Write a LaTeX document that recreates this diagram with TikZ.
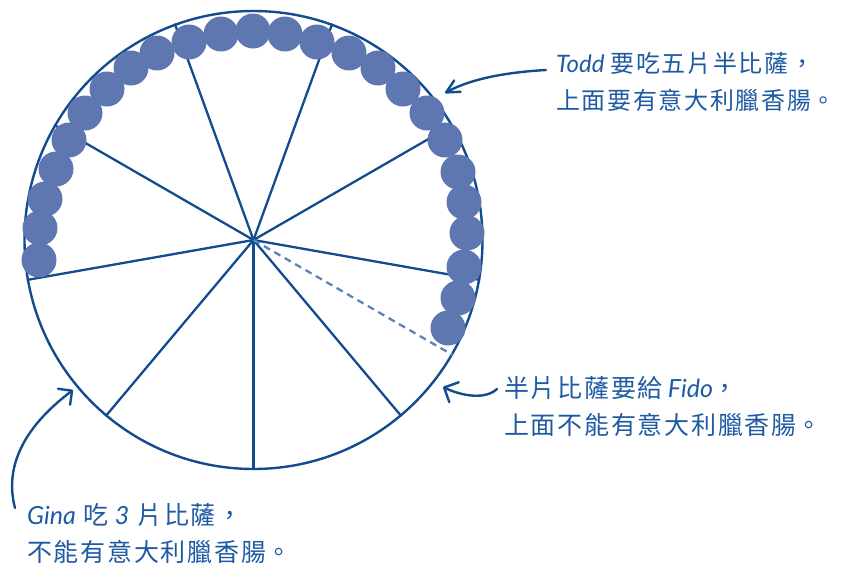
\documentclass[tikz,border=0pt]{standalone}
\usepackage{fontspec}
\usetikzlibrary{arrows.meta,calc}
\newfontfamily\cjk{Noto Sans CJK TC}[LetterSpace=7]
\newfontfamily\lat{Lato}[Scale=1.0]
\newcommand{\jushao}{\makebox[11pt][l]{。}}
\definecolor{lineblue}{HTML}{124C8E}
\definecolor{pepblue}{HTML}{5F77B0}
\definecolor{dashblue}{HTML}{5A82BC}
\definecolor{textblue}{HTML}{1E5AA3}
\tikzset{
  pizza/.style={circle, draw=lineblue, line width=2.4pt, minimum size=458pt, inner sep=0pt},
  spoke/.style={draw=lineblue, line width=2.3pt},
  halfcut/.style={draw=dashblue, line width=2.3pt, dash pattern=on 7pt off 5pt},
  pep/.style={circle, fill=pepblue, minimum size=35pt, inner sep=0pt},
  note/.style={text=textblue, font=\fontsize{25}{37}\selectfont\cjk, align=left, anchor=west, inner sep=0pt},
  pointer/.style={draw=lineblue, line width=2.4pt, line cap=round, line join=round},
}
\begin{document}
\begin{tikzpicture}[x=1pt,y=-1pt]
\useasboundingbox (0,0) rectangle (841,566);
\coordinate (C) at (253.5,240);
\node[pizza] (P) at (C) {};
\foreach \a in {30,70,110,150,190,230,270,310,350}
  \draw[spoke] (C) -- (P.\a);
\draw[halfcut] (C) -- (P.330);
\foreach \x/\y [count=\i] in {39/260, 40/228, 45/199, 56/169, 69/140, 85/113, 107/89, 131/68, 157/53, 189/42, 221/34, 253/31, 285/34, 317/42, 349/53, 378/68, 403/89, 427/113, 445/140, 458/172, 464/202, 467/233, 464/267, 458/298, 448/328}
  \node[pep] (p\i) at (\x,\y) {};
\node[note, font=\fontsize{24}{37}\selectfont\cjk] (todd) at (556,81.5) {{\lat\itshape Todd}\hspace{6pt}要吃五片半比薩，\\上面要有意大利臘香腸\jushao};
\node[note] (fido) at (504,406.5) {半片比薩要給\hspace{5pt}{\lat\itshape Fido}，\\上面不能有意大利臘香腸\jushao};
\node[note] (gina) at (27,533.5) {{\lat\itshape Gina}\hspace{8pt}吃\hspace{6pt}{\lat\itshape 3}\hspace{8pt}片比薩，\\不能有意大利臘香腸\jushao};
\coordinate (ts) at (546,70);
\coordinate (tt) at (445,93);
\coordinate (fs) at (497,389);
\coordinate (ft) at (443,387);
\coordinate (gs) at (15,508);
\coordinate (gt) at (73,390);
\draw[pointer, -{Straight Barb[length=13pt,width=13pt,round]}] (ts) .. controls (510,72) and (472,78) .. (tt);
\draw[pointer, -{Straight Barb[length=11pt,width=22pt,round]}] (fs) .. controls (485,400) and (462,396) .. (ft);
\draw[pointer, -{Straight Barb[length=10pt,width=20pt,round]}] (gs) .. controls (5,470) and (20,430) .. (gt);
\end{tikzpicture}
\end{document}
